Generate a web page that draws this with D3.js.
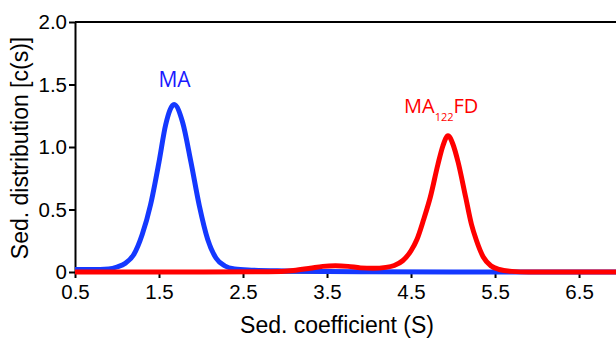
<!DOCTYPE html>
<html>
<head>
<meta charset="utf-8">
<script src="https://cdn.jsdelivr.net/npm/d3@7"></script>
<style>
  body { margin: 0; background: #fff; }
  .axis text { font-family: "Liberation Sans", Arial, sans-serif; font-size: 20.5px; fill: #000; }
  .axis path, .axis line { stroke: #000; stroke-width: 2px; }
</style>
</head>
<body>
<div class="chart"></div>
<script>
const maX = [0.5, 0.7, 0.9, 1.0, 1.1, 1.2, 1.3, 1.4, 1.5, 1.58, 1.68, 1.78, 1.88, 1.98, 2.08, 2.18, 2.28, 2.4, 2.6, 3.0, 3.5, 4.0, 5.0, 6.94];
const maY = [0.02, 0.02, 0.025, 0.04, 0.07, 0.14, 0.30, 0.54, 0.88, 1.18, 1.34, 1.20, 0.88, 0.53, 0.26, 0.11, 0.05, 0.025, 0.015, 0.008, 0.004, 0.002, 0.0, 0.0];

const fdX = [0.5, 1.0, 2.0, 2.8, 3.1, 3.3, 3.45, 3.6, 3.75, 3.9, 4.05, 4.2, 4.3, 4.4, 4.5, 4.57, 4.65, 4.73, 4.82, 4.88, 4.94, 5.0, 5.06, 5.15, 5.22, 5.28, 5.36, 5.45, 5.55, 5.7, 5.9, 6.94];
const fdY = [0, 0, 0, 0.002, 0.012, 0.03, 0.045, 0.05, 0.045, 0.033, 0.03, 0.037, 0.052, 0.09, 0.17, 0.26, 0.42, 0.6, 0.86, 1.01, 1.09, 1.02, 0.88, 0.6, 0.38, 0.25, 0.12, 0.05, 0.02, 0.005, 0, 0];

const xTicks = [0.5, 1.5, 2.5, 3.5, 4.5, 5.5, 6.5];
const yTicks = [0, 0.5, 1.0, 1.5, 2.0];
const yTickLabels = ['0', '0.5', '1.0', '1.5', '2.0'];

const width = 616;
const height = 338;

const svg = d3.select('.chart')
                .append('svg')
                .attr('width', width)
                .attr('height', height);

const xScale = d3.scaleLinear()
                .domain([0.5, 6.94])
                .range([75, 616]);

const yScale = d3.scaleLinear()
                .domain([0, 2])
                .range([272, 22]);

const xAxis = d3.axisBottom()
                .scale(xScale)
                .tickValues(xTicks)
                .tickFormat(d3.format('.1f'))
                .tickSize(6)
                .tickPadding(6)
                .tickSizeOuter(0);

const yAxis = d3.axisLeft()
                .scale(yScale)
                .tickValues(yTicks)
                .tickFormat((d, i) => yTickLabels[i])
                .tickSize(6)
                .tickPadding(2)
                .tickSizeOuter(0);

svg.append('g')
    .attr('class', 'axis x-axis')
    .attr('transform', 'translate(0,' + yScale(0) + ')')
    .call(xAxis);

svg.append('g')
    .attr('class', 'axis y-axis')
    .attr('transform', 'translate(' + xScale(0.5) + ',0)')
    .call(yAxis);

// top frame line
svg.append('line')
    .attr('x1', xScale(0.5)).attr('x2', width)
    .attr('y1', yScale(2)).attr('y2', yScale(2))
    .attr('stroke', '#000')
    .attr('stroke-width', 2);

const line = d3.line()
                .x(d => xScale(d[0]))
                .y(d => yScale(d[1]))
                .curve(d3.curveMonotoneX);

svg.append('path')
    .datum(maX.map((x, i) => [x, maY[i]]))
    .attr('d', line)
    .attr('fill', 'none')
    .attr('stroke', '#1438ff')
    .attr('stroke-width', 5);

svg.append('path')
    .datum(fdX.map((x, i) => [x, fdY[i]]))
    .attr('d', line)
    .attr('fill', 'none')
    .attr('stroke', '#ff0000')
    .attr('stroke-width', 5);

// curve labels
svg.append('text')
    .attr('x', 174.5)
    .attr('y', 87)
    .attr('text-anchor', 'middle')
    .style('font-family', '"Open Sans", sans-serif')
    .style('font-size', '21px')
    .attr('fill', '#1a1aff')
    .text('MA');

const fdLabel = svg.append('text')
    .attr('x', 404)
    .attr('y', 113)
    .style('font-family', '"Open Sans", sans-serif')
    .style('font-size', '20px')
    .attr('fill', '#ff0000');
fdLabel.append('tspan').text('MA');
fdLabel.append('tspan').attr('dy', 8).style('font-size', '11px').text('122');
fdLabel.append('tspan').attr('dy', -8).text('FD');

// axis titles
svg.append('text')
    .attr('x', 337)
    .attr('y', 333)
    .attr('text-anchor', 'middle')
    .style('font-family', '"Liberation Sans", Arial, sans-serif')
    .style('font-size', '23px')
    .text('Sed. coefficient (S)');

svg.append('text')
    .attr('transform', 'translate(28,148) rotate(-90)')
    .attr('text-anchor', 'middle')
    .style('font-family', '"Liberation Sans", Arial, sans-serif')
    .style('font-size', '23px')
    .text('Sed. distribution [c(s)]');
</script>
</body>
</html>
